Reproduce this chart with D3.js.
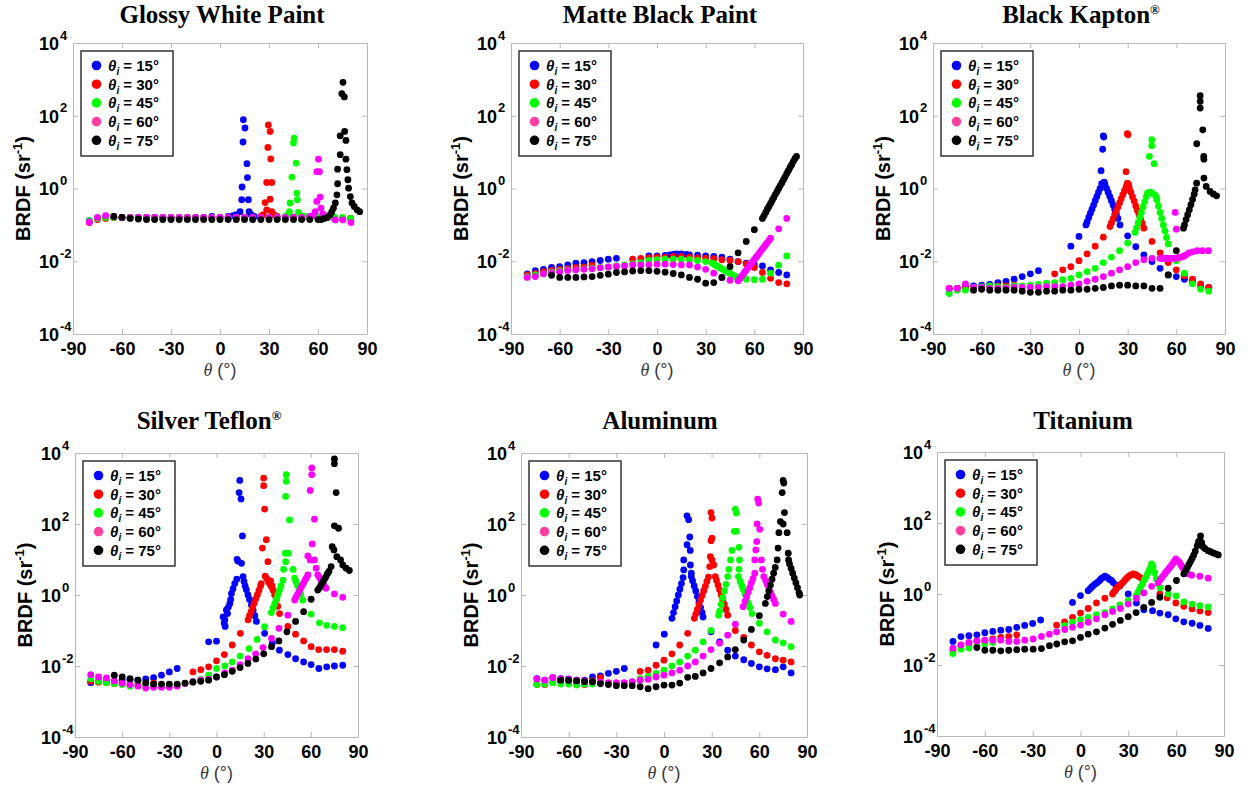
<!DOCTYPE html>
<html>
<head>
<meta charset="utf-8">
<script src="https://cdn.jsdelivr.net/npm/d3@7"></script>
<style>
  body { margin: 0; background: #fff; }
  svg { display: block; }
</style>
</head>
<body>
<svg id="chart" width="1250" height="788"></svg>
<script>
// ---- data: [scattering angle θ (deg), BRDF (sr^-1)] ----

// Glossy White Paint
const gw15 = [[-80,0.13],[-75,0.15],[-70,0.16],[-65,0.16],[-60,0.16],[-55,0.16],[-50,0.16],[-45,0.16],[-40,0.16],[-35,0.16],[-30,0.16],[-25,0.16],[-20,0.16],[-15,0.16],[-10,0.16],[-5,0.17],[0,0.16],[5,0.17],[8,0.18],[10,0.19],[12.3,0.23],[13.3,0.49],[13.5,1.1],[14.1,19],[14.3,78],[15.3,46],[16.5,4.8],[16.8,2.0],[17.4,0.49],[17.8,0.23],[19,0.19],[21,0.17],[25,0.16],[30,0.16],[35,0.16],[40,0.16],[45,0.16],[50,0.16],[55,0.16],[60,0.16],[65,0.16],[70,0.16],[75,0.15],[80,0.15]];
const gw30 = [[-80,0.116],[-75,0.14],[-70,0.15],[-65,0.16],[-60,0.16],[-55,0.16],[-50,0.16],[-45,0.16],[-40,0.16],[-35,0.16],[-30,0.16],[-25,0.16],[-20,0.16],[-15,0.16],[-10,0.16],[-5,0.16],[0,0.16],[5,0.16],[10,0.16],[15,0.16],[20,0.16],[25,0.17],[26.5,0.19],[27.6,0.41],[28.6,0.26],[28.6,1.46],[29.3,13.5],[29.6,56],[30.7,37],[31.1,6.5],[31.7,1.46],[30.7,0.51],[31.7,0.23],[33,0.19],[35,0.17],[40,0.16],[45,0.16],[50,0.16],[55,0.16],[60,0.16],[65,0.16],[70,0.15],[75,0.15],[80,0.15]];
const gw45 = [[-80,0.13],[-75,0.15],[-70,0.16],[-65,0.16],[-60,0.16],[-55,0.16],[-50,0.16],[-45,0.16],[-40,0.16],[-35,0.16],[-30,0.16],[-25,0.16],[-20,0.16],[-15,0.16],[-10,0.16],[-5,0.16],[0,0.16],[5,0.16],[10,0.16],[15,0.16],[20,0.16],[25,0.16],[30,0.16],[35,0.16],[40,0.17],[41.5,0.19],[42.5,0.23],[42.9,0.4],[44,2.06],[45,17.8],[45.4,24.4],[46.6,5.0],[47,0.75],[47.4,0.49],[48,0.22],[49.5,0.18],[52,0.17],[55,0.16],[60,0.16],[65,0.16],[70,0.16],[75,0.16],[80,0.15]];
const gw60 = [[-80,0.12],[-75,0.16],[-70,0.18],[-65,0.17],[-60,0.16],[-55,0.16],[-50,0.16],[-45,0.16],[-40,0.16],[-35,0.16],[-30,0.16],[-25,0.16],[-20,0.16],[-15,0.16],[-10,0.16],[-5,0.16],[0,0.16],[5,0.16],[10,0.16],[15,0.16],[20,0.16],[25,0.16],[30,0.16],[35,0.16],[40,0.16],[45,0.16],[50,0.16],[55,0.17],[57,0.18],[58.3,0.23],[59.3,0.44],[59.3,2.9],[60.3,6.4],[60.9,2.9],[61.3,0.58],[61.8,0.29],[63,0.2],[65,0.17],[70.6,0.137],[75.3,0.137],[80.2,0.116]];
const gw75 = [[-65,0.17],[-60,0.16],[-55,0.15],[-50,0.145],[-45,0.14],[-40,0.14],[-35,0.14],[-30,0.14],[-25,0.14],[-20,0.14],[-15,0.14],[-10,0.14],[-5,0.14],[0,0.14],[5,0.14],[10,0.14],[15,0.14],[20,0.14],[25,0.14],[30,0.14],[35,0.14],[40,0.14],[45,0.14],[50,0.14],[55,0.14],[60,0.14],[62,0.14],[63.8,0.15],[65.8,0.16],[67.5,0.19],[68.5,0.23],[69.5,0.29],[70.6,0.4],[71.6,0.67],[72,1.35],[72,3.4],[73.6,8.5],[73.6,28],[74.6,405],[75.3,830],[76.1,330],[76.3,37],[77.1,21],[77.1,6.4],[77.7,3.3],[78.3,1.74],[78.7,1.02],[79.8,0.6],[80.8,0.4],[82.2,0.32],[83.9,0.26],[85.5,0.23]];

// Matte Black Paint
const mb15 = [[-80,0.0045],[-75,0.0055],[-70,0.006],[-65,0.0068],[-60,0.0071],[-55,0.0079],[-50,0.0088],[-45,0.0092],[-40,0.0098],[-35,0.0105],[-30,0.0114],[-25,0.012],[-5,0.014],[0,0.014],[5,0.0145],[8,0.015],[10,0.0155],[12,0.0158],[15,0.0158],[18,0.0155],[20,0.015],[25,0.0146],[30,0.014],[35,0.0135],[40,0.013],[45,0.0114],[50,0.0098],[55,0.0088],[60,0.0079],[65,0.0074],[70,0.0058],[75,0.0049],[80,0.0042]];
const mb30 = [[-80,0.0042],[-75,0.0046],[-70,0.0052],[-65,0.0056],[-60,0.006],[-55,0.0063],[-50,0.0068],[-45,0.007],[-40,0.0078],[-15,0.0114],[-10,0.012],[-5,0.0125],[0,0.013],[5,0.013],[10,0.0135],[15,0.0135],[20,0.013],[25,0.0125],[30,0.0122],[35,0.0118],[40,0.011],[45,0.0105],[50,0.0098],[55,0.0085],[60,0.0067],[65,0.0049],[70,0.0034],[75,0.0026],[80,0.0024]];
const mb45 = [[-80,0.0038],[-75,0.0042],[-70,0.0045],[-65,0.005],[-60,0.0054],[-55,0.0058],[-50,0.0058],[-45,0.0062],[-40,0.0065],[-35,0.0068],[-30,0.007],[-25,0.0075],[-20,0.0079],[-15,0.0085],[-10,0.0092],[-5,0.0105],[0,0.011],[5,0.0114],[10,0.0114],[15,0.0114],[20,0.011],[25,0.0105],[30,0.0098],[34,0.0089],[35,0.0084],[36,0.0079],[37,0.0074],[38,0.007],[39,0.0066],[40,0.0062],[41,0.0058],[42,0.0055],[43,0.0052],[44,0.0049],[45,0.0046],[46,0.0043],[47,0.0041],[48,0.0039],[49,0.0037],[50,0.0035],[51,0.0034],[55,0.0032],[60,0.0031],[65,0.0032],[70,0.0047],[75,0.0078],[80,0.014]];
const mb60 = [[-80,0.0036],[-75,0.0038],[-70,0.0045],[-65,0.0048],[-60,0.0051],[-55,0.0056],[-50,0.0058],[-45,0.006],[-40,0.0062],[-35,0.0066],[-30,0.007],[-25,0.0072],[-20,0.0074],[-15,0.0079],[-10,0.0079],[-5,0.0081],[0,0.0083],[5,0.0083],[10,0.0081],[15,0.0079],[20,0.0079],[25,0.0069],[30,0.006],[35,0.0047],[40,0.0036],[45,0.003],[50,0.0029],[51,0.0033],[52,0.0038],[53,0.0043],[54,0.005],[55,0.0057],[56,0.0065],[57,0.0074],[58,0.0085],[59,0.0097],[60,0.011],[61,0.0127],[62,0.0145],[63,0.0166],[64,0.019],[65,0.0218],[66,0.025],[67,0.0285],[68,0.0326],[69,0.037],[70,0.043],[75,0.078],[80,0.15]];
const mb75 = [[-65,0.0041],[-60,0.0036],[-55,0.0036],[-50,0.0036],[-45,0.0037],[-40,0.0038],[-35,0.0041],[-30,0.0044],[-25,0.0049],[-20,0.0051],[-15,0.0054],[-10,0.0055],[-5,0.0055],[0,0.0053],[5,0.005],[10,0.0046],[15,0.0042],[20,0.0036],[25,0.0032],[30,0.0025],[35,0.0026],[40,0.0036],[45,0.0071],[50,0.017],[55,0.035],[60,0.074],[65,0.15],[66,0.18],[67,0.22],[68,0.27],[69,0.32],[70,0.39],[71,0.47],[72,0.57],[73,0.69],[74,0.83],[75,1.0],[76,1.2],[77,1.45],[78,1.75],[79,2.1],[80,2.6],[81,3.1],[82,3.8],[83,4.5],[84,5.5],[85,6.6],[86,7.6]];

// Black Kapton
const bk15 = [[-80,0.0017],[-75,0.0018],[-70,0.002],[-65,0.0021],[-60,0.0022],[-55,0.0023],[-50,0.0026],[-45,0.0028],[-40,0.0032],[-35,0.0038],[-30,0.0045],[-25,0.0055],[-5,0.026],[0,0.048],[4.3,0.1],[5,0.12],[6,0.16],[7,0.21],[8,0.27],[9,0.35],[10,0.46],[11,0.6],[12,0.78],[13,1.0],[13.6,3.1],[14,1.35],[14.6,12],[15,28],[15.3,26],[15.5,1.5],[16,1.3],[17,1.0],[18,0.78],[19,0.6],[20,0.46],[21,0.35],[22,0.27],[23,0.2],[24,0.15],[25.3,0.1],[30,0.05],[35,0.025],[40,0.015],[45,0.0098],[50,0.0064],[55,0.0042],[60,0.0038],[65,0.0032],[70,0.0028],[75,0.0021],[80,0.0019]];
const bk30 = [[-80,0.0018],[-75,0.0018],[-70,0.0019],[-65,0.0019],[-60,0.0019],[-55,0.002],[-50,0.0021],[-45,0.0021],[-40,0.0022],[-15,0.0045],[-10,0.0058],[-5,0.0071],[0,0.0104],[5,0.016],[10,0.026],[15,0.046],[19.1,0.09],[20,0.113],[21,0.145],[22,0.19],[23,0.24],[24,0.31],[25,0.4],[26,0.52],[27,0.67],[28,0.86],[29,1.1],[29.8,1.4],[29,2.9],[29.8,32],[30.2,30],[30.5,1.3],[31,1.05],[32,0.79],[33,0.59],[34,0.45],[35,0.33],[36,0.25],[37,0.19],[38,0.14],[39,0.11],[40,0.081],[45,0.035],[50,0.017],[55,0.0092],[60,0.0058],[65,0.004],[70,0.0032],[75,0.0024],[80,0.0019]];
const bk45 = [[-80,0.0013],[-75,0.0016],[-70,0.0016],[-65,0.0019],[-60,0.002],[-55,0.0021],[-50,0.002],[-45,0.0019],[-40,0.0021],[-35,0.0021],[-30,0.0022],[-25,0.0023],[-20,0.0025],[-15,0.0026],[-10,0.0031],[-5,0.0034],[0,0.0042],[5,0.0052],[10,0.0064],[15,0.0092],[20,0.013],[25,0.0195],[30,0.032],[34.6,0.062],[35.5,0.083],[36.5,0.115],[37.5,0.16],[38.5,0.22],[39.5,0.31],[40.5,0.43],[41.5,0.6],[42.2,0.75],[43,0.78],[43.4,7.6],[44.9,22],[44.9,15],[46.3,4.8],[44.2,0.8],[45.5,0.72],[46.5,0.68],[47.5,0.6],[48,0.49],[49,0.33],[50,0.22],[51,0.15],[52,0.1],[53,0.068],[54,0.045],[55,0.03],[60,0.0104],[65,0.0047],[70,0.0024],[75,0.0017],[80,0.0015]];
const bk60 = [[-80,0.0018],[-75,0.0018],[-70,0.0024],[-65,0.0019],[-60,0.0019],[-55,0.0018],[-50,0.0018],[-45,0.0018],[-40,0.0019],[-35,0.0019],[-30,0.0019],[-25,0.0019],[-20,0.002],[-15,0.002],[-10,0.002],[-5,0.0022],[0,0.0024],[5,0.0028],[10,0.0032],[15,0.0038],[20,0.0047],[25,0.0058],[30,0.0071],[35,0.0092],[40,0.011],[45,0.012],[50,0.012],[51,0.012],[52,0.0118],[53,0.012],[54,0.0122],[55,0.012],[56,0.0118],[57,0.012],[58,0.0122],[59,0.012],[59.3,0.22],[60,0.076],[60,0.012],[61,0.0125],[62,0.0128],[63,0.013],[64,0.0135],[65,0.014],[66,0.015],[67.8,0.017],[70,0.018],[72.8,0.0195],[76,0.0195],[79.8,0.0195]];
const bk75 = [[-65,0.0016],[-60,0.0017],[-55,0.0016],[-50,0.0016],[-45,0.0016],[-40,0.0016],[-35,0.0015],[-30,0.0014],[-25,0.0014],[-20,0.0015],[-15,0.0015],[-10,0.0016],[-5,0.0016],[0,0.0017],[5,0.0017],[10,0.0018],[15,0.0019],[20,0.0021],[25,0.0022],[30,0.0022],[35,0.0021],[40,0.0021],[45,0.0018],[50,0.0018],[55,0.0042],[60,0.0195],[64.4,0.081],[65,0.1],[66,0.14],[67,0.19],[68,0.26],[69,0.36],[70,0.5],[71,0.7],[71.6,0.92],[72.5,1.4],[72.6,17],[74.7,355],[74.7,247],[74.7,163],[76.3,41],[76.9,7.6],[77,6.4],[77,1.93],[78.4,1.14],[80.8,0.83],[82.8,0.71],[84.8,0.63]];

// Silver Teflon
const st15 = [[-80,0.0034],[-75,0.0038],[-70,0.0037],[-65,0.0037],[-60,0.004],[-55,0.0042],[-50,0.004],[-45,0.0043],[-40,0.0047],[-35,0.0055],[-30,0.0068],[-25,0.0085],[-5,0.048],[0,0.05],[4.2,0.24],[4.9,0.16],[5.3,0.2],[5.5,0.13],[6.3,0.38],[7,0.3],[7.5,0.45],[8.5,0.58],[9,0.75],[9.5,1.1],[10.5,1.5],[11.6,2.1],[12.9,2.8],[13.1,10],[13.6,9],[14.4,770],[14.8,1690],[15.6,510],[16.5,46],[15.9,7.8],[16.9,3.3],[17.5,2.4],[18.2,1.8],[19,1.4],[20,1.0],[21,0.75],[22.2,0.52],[23.3,0.37],[24.4,0.26],[25.4,0.18],[30.6,0.083],[35.5,0.044],[40,0.028],[45.4,0.021],[50.3,0.016],[55.4,0.013],[60.2,0.011],[65.1,0.0085],[70.1,0.0095],[75,0.01],[80.3,0.0105]];
const st30 = [[-80,0.0037],[-75,0.0035],[-70,0.0034],[-65,0.0032],[-60,0.0032],[-55,0.0029],[-50,0.003],[-45,0.003],[-40,0.0033],[-15,0.0068],[-10,0.0079],[-5,0.0095],[0,0.014],[5,0.021],[10,0.039],[15.2,0.083],[20.1,0.2],[21,0.26],[22,0.34],[23,0.45],[24,0.59],[25,0.78],[26,1.02],[27,1.35],[28,1.8],[28.5,2.1],[29.2,21],[30,1960],[30,1200],[30.6,263],[31.7,36],[32.7,8.7],[31,3.4],[32,2.9],[33,2.4],[34,2.0],[34.4,2.5],[35,1.7],[35.4,1.8],[36,1.35],[37,1.0],[38,0.72],[39,0.48],[40.1,0.3],[45.4,0.13],[50.3,0.079],[55.4,0.051],[60.2,0.035],[65,0.029],[70,0.029],[75,0.029],[80.3,0.026]];
const st45 = [[-80,0.0044],[-75,0.0037],[-70,0.0034],[-65,0.0032],[-60,0.003],[-55,0.0027],[-50,0.0028],[-45,0.0028],[-40,0.0029],[-35,0.0029],[-30,0.0029],[-25,0.0029],[-20,0.0032],[-15,0.0037],[-10,0.0042],[-5,0.0055],[0,0.0085],[5.3,0.01],[10,0.013],[15,0.019],[20.7,0.031],[25.8,0.056],[30.6,0.128],[34.9,0.32],[36,0.43],[37,0.57],[38,0.76],[39,1.0],[40,1.35],[41,1.8],[42.3,2.6],[42.7,5.3],[43.8,15],[44,8.7],[44,600],[44.4,2450],[44.4,1590],[46.5,130],[45.8,15],[48.7,5.3],[49.7,3.0],[50.5,2.4],[51.5,1.85],[52.5,1.4],[53.5,1.05],[54.9,0.72],[60.2,0.29],[65.5,0.165],[70.1,0.14],[75,0.13],[80.3,0.12]];
const st60 = [[-80,0.0057],[-75,0.0049],[-70,0.0046],[-65,0.0038],[-60,0.0033],[-55,0.003],[-50,0.0027],[-45,0.0024],[-40,0.0025],[-35,0.0025],[-30,0.0025],[-25,0.0027],[-20,0.0032],[-15,0.0036],[-10,0.004],[-5,0.0042],[0,0.0049],[5.3,0.0064],[10.1,0.0076],[15,0.011],[20,0.016],[24.9,0.022],[29.6,0.033],[35,0.06],[39.7,0.115],[45.4,0.27],[49.7,0.72],[50.5,0.85],[51.5,1.03],[52.5,1.25],[53.5,1.52],[54.5,1.85],[55.5,2.2],[56.5,2.7],[57.3,3.1],[58.1,3.7],[58.1,12.6],[59.6,9.7],[59.6,880],[60.6,3800],[60.6,2450],[62.3,137],[60.9,27.5],[62.3,9.7],[63.4,5.7],[64.4,3.7],[65.5,3.1],[66.5,2.5],[67.5,2.1],[68.5,1.8],[69.7,1.55],[75,1.07],[80.3,0.86]];
const st75 = [[-65,0.0055],[-60,0.0049],[-55,0.0044],[-50,0.004],[-45,0.0034],[-40,0.0031],[-35,0.0031],[-30,0.0031],[-25,0.0031],[-20,0.0033],[-15,0.0035],[-10,0.0037],[-5,0.004],[0,0.0049],[5,0.0057],[10,0.0071],[15,0.009],[20,0.0118],[25,0.0157],[30,0.022],[35,0.035],[39.7,0.051],[44.8,0.092],[50.3,0.18],[55.4,0.34],[60.2,0.76],[64.4,1.38],[65.5,1.6],[66.5,1.9],[67.5,2.3],[68.5,2.7],[69.5,3.2],[70.5,3.9],[71.5,4.6],[72.9,6.3],[73.6,23],[74.7,18.6],[75,5000],[75,6800],[76.1,770],[75,89],[77.6,76],[76.5,12],[78.9,9.7],[80.3,7],[82.4,5.7],[84.5,4.9]];

// Aluminum
const al15 = [[-80,0.0044],[-75,0.004],[-70,0.0047],[-65,0.0044],[-60,0.0043],[-55,0.004],[-50,0.004],[-45,0.0049],[-40,0.0053],[-35,0.0062],[-30,0.0071],[-25,0.0085],[-5,0.039],[0.2,0.079],[5,0.22],[6,0.32],[7,0.47],[8,0.68],[9,1.0],[10,1.45],[11,2.1],[12,3.1],[12.4,5.1],[12.4,9.7],[14.5,26],[14.5,170],[15.5,132],[16.2,43],[16.5,18],[16.6,7],[17.2,4.1],[17.2,3.3],[18,2.5],[19,1.8],[20,1.3],[21,0.9],[22,0.64],[23,0.45],[24,0.32],[24.6,0.24],[29.6,0.092],[35,0.048],[40.1,0.028],[44.9,0.019],[50.2,0.015],[55,0.0118],[60,0.0095],[64.9,0.0083],[70.1,0.0079],[75,0.0095],[80,0.0064]];
const al30 = [[-80,0.003],[-75,0.003],[-70,0.0035],[-65,0.0037],[-60,0.004],[-55,0.0035],[-50,0.003],[-45,0.0038],[-40,0.0047],[-15,0.0071],[-10,0.0076],[-5,0.0105],[0,0.0146],[5,0.022],[9.9,0.039],[14.9,0.083],[19.1,0.22],[20,0.29],[21,0.39],[22,0.53],[23,0.72],[24,0.97],[25,1.3],[26,1.75],[27,2.4],[28,3.2],[28.8,6.3],[29.2,12],[29.6,34],[29.6,210],[30.2,147],[30.2,40],[30.2,9.7],[31.3,7],[32.3,3.3],[33,2.6],[34,1.9],[35,1.4],[36,1.0],[37,0.74],[38,0.54],[39,0.39],[40.1,0.27],[44.9,0.1],[50.2,0.064],[55,0.039],[60,0.025],[64.9,0.02],[70.1,0.016],[75,0.0146],[80,0.013]];
const al45 = [[-80,0.003],[-75,0.0031],[-70,0.0034],[-65,0.0031],[-60,0.0031],[-55,0.0029],[-50,0.0031],[-45,0.0031],[-40,0.0032],[-35,0.0032],[-30,0.0032],[-25,0.0033],[-20,0.0036],[-15,0.0044],[-10,0.0051],[-5,0.0062],[0,0.0076],[5,0.01],[9.9,0.013],[14.9,0.019],[19.7,0.028],[24.6,0.048],[29.6,0.1],[34.4,0.27],[35,0.35],[36,0.54],[37,0.84],[38,1.3],[39,2.0],[40.1,3.3],[40.8,5.3],[41.9,9.7],[42.8,18],[44.3,62],[44.9,263],[45.6,203],[45.6,62],[47.2,22],[47.5,9.7],[47.2,5.3],[46.8,3.3],[48,2.4],[49,1.8],[50,1.4],[51,1.05],[52,0.8],[53,0.6],[54,0.45],[55.4,0.3],[60,0.16],[64.9,0.092],[70.1,0.054],[75,0.045],[80,0.035]];
const al60 = [[-80,0.0043],[-75,0.004],[-70,0.0047],[-65,0.0043],[-60,0.0042],[-55,0.004],[-50,0.0038],[-45,0.0036],[-40,0.0035],[-35,0.0034],[-30,0.0034],[-25,0.0034],[-20,0.0036],[-15,0.004],[-10,0.0042],[-5,0.0049],[0,0.0055],[5,0.0064],[9.9,0.0076],[14.9,0.01],[19.7,0.013],[24.6,0.019],[29.6,0.029],[35,0.044],[40.1,0.074],[44.9,0.15],[49.8,0.47],[51,0.67],[52,0.9],[53,1.2],[54,1.6],[55,2.2],[56,2.9],[57.1,4.1],[57.1,9.7],[57.8,18.6],[58.4,32],[58.6,100],[59,500],[59.6,390],[60.3,71],[61.3,9.7],[62,5.3],[62.8,3.3],[64,2.5],[65,2.0],[66,1.6],[67,1.2],[68,0.95],[69,0.75],[70.1,0.58],[75,0.29],[80,0.18]];
const al75 = [[-65,0.004],[-60,0.0039],[-55,0.0038],[-50,0.0036],[-45,0.0036],[-40,0.0032],[-35,0.003],[-30,0.0028],[-25,0.0028],[-20,0.0028],[-15,0.0026],[-10,0.0023],[-5,0.0026],[0,0.0029],[5,0.0029],[9.9,0.0033],[14.9,0.0048],[19.7,0.0051],[24.6,0.0064],[29.6,0.0085],[35,0.0123],[40.1,0.018],[44.9,0.029],[50.2,0.054],[55,0.107],[60,0.26],[63.8,0.58],[65,0.9],[66,1.3],[67,1.9],[68,2.8],[69,4.1],[70,6.0],[71.2,9.7],[71.8,21],[72.3,57],[73.3,117],[74.4,770],[75,1690],[75.4,1420],[75,100],[75.8,210],[77.5,57],[78.2,15],[78.4,9.7],[79,7.5],[80,5.6],[81,4.1],[82,3.0],[83,2.2],[84,1.6],[85,1.15],[85.4,1.0]];

// Titanium
const ti15 = [[-80,0.046],[-75,0.063],[-70,0.067],[-65,0.071],[-60,0.081],[-55,0.088],[-50,0.096],[-45,0.1],[-40,0.115],[-35,0.13],[-30,0.148],[-25,0.185],[-5,0.58],[0,0.9],[4.8,1.24],[6,1.4],[7,1.55],[7.9,1.7],[9,1.9],[10,2.0],[11,2.2],[12.1,2.4],[13,2.7],[14,2.9],[15.3,3.16],[16.7,2.95],[18,2.6],[19.4,2.4],[20.5,2.1],[22.2,1.8],[24.7,1.7],[29.9,1.0],[35.1,0.56],[39.7,0.36],[45.2,0.34],[49.8,0.29],[55,0.26],[59.8,0.2],[64.8,0.165],[70,0.15],[74.9,0.13],[80.1,0.107]];
const ti30 = [[-80,0.026],[-75,0.035],[-70,0.04],[-65,0.046],[-60,0.048],[-55,0.054],[-50,0.06],[-45,0.063],[-40,0.071],[-15,0.133],[-10,0.165],[-5,0.22],[0,0.29],[4.8,0.39],[10,0.56],[15.3,0.76],[20.1,1.0],[21,1.15],[22,1.3],[23,1.5],[24,1.65],[25,1.8],[26,2.0],[27,2.2],[28,2.5],[29,2.8],[30,3.1],[31,3.3],[32,3.5],[33,3.7],[34,3.6],[35.1,3.4],[36.5,3.1],[38.3,2.8],[49.8,1.0],[54.4,0.78],[59.8,0.56],[64.8,0.45],[70,0.38],[74.9,0.33],[80.1,0.3]];
const ti45 = [[-80,0.021],[-75,0.028],[-70,0.03],[-65,0.035],[-60,0.04],[-55,0.043],[-15,0.086],[-10,0.128],[-5,0.16],[0,0.19],[4.8,0.22],[10,0.26],[15.3,0.3],[20.1,0.38],[24.7,0.49],[29.9,0.65],[34.9,0.9],[36,1.1],[37,1.35],[38,1.65],[39,2.0],[40,2.5],[41,3.0],[42,3.7],[43,4.6],[44,5.6],[44.6,7.0],[45.5,6.0],[46.5,4.0],[47.5,2.7],[48.7,1.9],[50,1.5],[55,1.0],[60,0.88],[64.8,0.6],[70,0.52],[74.9,0.47],[80.1,0.43]];
const ti60 = [[-80,0.03],[-75,0.037],[-70,0.043],[-65,0.048],[-60,0.05],[-55,0.05],[-50,0.05],[-45,0.046],[-40,0.046],[-35,0.05],[-29.7,0.054],[-24.5,0.064],[-19.5,0.074],[-14.9,0.086],[-9.9,0.1],[-5,0.115],[0,0.133],[4.8,0.16],[10,0.2],[15.3,0.26],[20.1,0.32],[25,0.39],[29.9,0.52],[35.1,0.76],[39.7,1.07],[44.6,1.65],[48.7,2.1],[50,2.5],[51,2.9],[52,3.3],[53,3.8],[54,4.3],[55,4.9],[56,5.6],[57,6.4],[58,7.3],[59,8.5],[59.8,9.7],[61,8.6],[62,7.8],[63,6.6],[64,5.6],[65,4.8],[66,4.2],[67.5,3.7],[69.7,3.4],[74.9,3.16],[80.1,2.8]];
const ti75 = [[-65,0.031],[-60,0.026],[-55,0.026],[-50,0.025],[-45,0.026],[-40,0.027],[-35,0.028],[-29.7,0.028],[-24.5,0.029],[-19.5,0.035],[-14.9,0.039],[-9.9,0.045],[-5,0.048],[0,0.06],[4.8,0.074],[10,0.086],[15.3,0.11],[20.1,0.14],[25,0.18],[29.9,0.23],[34.9,0.3],[39.7,0.42],[44.6,0.58],[49.8,0.81],[55,1.45],[60.2,2.4],[64.8,3.7],[66,4.6],[67,5.6],[68,6.8],[69,8.2],[70,10],[71,12.5],[72,16],[73.2,23],[74,30],[75,32],[75.3,43],[76,28],[77,21],[78,19],[80,16.6],[81.5,15.5],[83.2,14.4],[84.8,13.5],[86.4,12.6]];

const materials = ["Glossy White Paint", "Matte Black Paint", "Black Kapton", "Silver Teflon", "Aluminum", "Titanium"];
const registered = [false, false, true, true, false, false];
const materialSeries = [
  [gw15, gw30, gw45, gw60, gw75],
  [mb15, mb30, mb45, mb60, mb75],
  [bk15, bk30, bk45, bk60, bk75],
  [st15, st30, st45, st60, st75],
  [al15, al30, al45, al60, al75],
  [ti15, ti30, ti45, ti60, ti75]
];
const incidence = [15, 30, 45, 60, 75];
const xTicks = [-90, -60, -30, 0, 30, 60, 90];
const yExponents = [-4, -2, 0, 2, 4];

// ---- style / layout ----
const dotColors = ["#0000ff", "#ff0000", "#00ff00", "#ff00ff", "#000000"];
const legendColors = ["#0000ff", "#ff0000", "#00ff00", "#ff40a0", "#000000"];
const SANS = "'Liberation Sans', Arial, sans-serif";
const SERIF = "'Liberation Serif', 'Times New Roman', serif";
const FRAME = "#b8b8b8";

const boxes = [
  { x: 73,  y: 43,  w: 294, h: 291, tx: 222,  ty: 23 },
  { x: 511, y: 43,  w: 292, h: 291, tx: 660,  ty: 23 },
  { x: 933, y: 43,  w: 292, h: 291, tx: 1081, ty: 23 },
  { x: 75,  y: 453, w: 283, h: 284, tx: 209,  ty: 429 },
  { x: 521, y: 453, w: 286, h: 284, tx: 660,  ty: 429 },
  { x: 937, y: 452, w: 287, h: 284, tx: 1083, ty: 429 }
];

const svg = d3.select("#chart");

materials.forEach((name, i) => drawPanel(name, registered[i], materialSeries[i], boxes[i]));

function drawPanel(name, reg, series, box) {
  // title
  const title = svg.append("text")
    .attr("x", box.tx).attr("y", box.ty)
    .attr("text-anchor", "middle")
    .style("font-family", SERIF).style("font-weight", "bold").style("font-size", "25px");
  title.append("tspan").text(name);
  if (reg) title.append("tspan").attr("dy", -9).style("font-size", "13px").text("\u00ae");

  const g = svg.append("g").attr("transform", `translate(${box.x},${box.y})`);
  const x = d3.scaleLinear().domain([-90, 90]).range([0, box.w]);
  const y = d3.scaleLog().domain([1e-4, 1e4]).range([box.h, 0]);
  const yVals = yExponents.map(e => Math.pow(10, e));

  // frame + inward ticks
  g.append("g").attr("transform", `translate(0,${box.h})`)
    .call(d3.axisBottom(x).tickValues(xTicks).tickSize(-5).tickSizeOuter(0).tickPadding(8).tickFormat(d => String(d)))
    .call(ax => ax.selectAll("text").attr("fill", "#000")
      .style("font-family", SANS).style("font-weight", "bold").style("font-size", "18px"));
  g.append("g")
    .call(d3.axisTop(x).tickValues(xTicks).tickSize(-5).tickSizeOuter(0).tickFormat(""));
  g.append("g")
    .call(d3.axisLeft(y).tickValues(yVals).tickSize(-5).tickSizeOuter(0).tickFormat(""))
    .call(ax => {
      ax.selectAll(".tick").append("text")
        .attr("x", -14).attr("dy", "0.36em").attr("text-anchor", "end").attr("fill", "#000")
        .style("font-family", SANS).style("font-weight", "bold").style("font-size", "18px")
        .text("10");
      ax.selectAll(".tick").append("text")
        .attr("x", -13).attr("y", -4).attr("text-anchor", "start").attr("fill", "#000")
        .style("font-family", SANS).style("font-weight", "bold").style("font-size", "13px")
        .text(d => String(Math.round(Math.log10(d))));
    });
  g.append("g").attr("transform", `translate(${box.w},0)`)
    .call(d3.axisRight(y).tickValues(yVals).tickSize(-5).tickSizeOuter(0).tickFormat(""));
  g.selectAll(".domain").attr("stroke", FRAME);
  g.selectAll(".tick line").attr("stroke", FRAME);

  // axis labels
  const xl = g.append("text")
    .attr("x", box.w / 2).attr("y", box.h + 42)
    .attr("text-anchor", "middle").attr("fill", "#3a3a3a")
    .style("font-family", SANS).style("font-size", "18px");
  xl.append("tspan").style("font-style", "italic").style("font-family", SERIF).text("\u03b8");
  xl.append("tspan").text(" (\u00b0)");

  const yl = g.append("text")
    .attr("transform", `translate(-43,${box.h / 2}) rotate(-90)`)
    .attr("text-anchor", "middle").attr("fill", "#000")
    .style("font-family", SANS).style("font-weight", "bold").style("font-size", "20px");
  yl.append("tspan").text("BRDF (sr");
  yl.append("tspan").attr("dy", -8).style("font-size", "13px").text("-1");
  yl.append("tspan").attr("dy", 8).text(")");

  // data points, 15° first so 75° ends on top
  series.forEach((pts, k) => {
    g.append("g").selectAll("circle")
      .data(pts)
      .join("circle")
        .attr("cx", d => x(d[0]))
        .attr("cy", d => y(d[1]))
        .attr("r", 3.4)
        .attr("fill", dotColors[k]);
  });

  // legend
  const lg = g.append("g").attr("transform", "translate(8,8)");
  lg.append("rect").attr("width", 92).attr("height", 105)
    .attr("fill", "#fff").attr("stroke", "#333").attr("stroke-width", 1.5);
  incidence.forEach((a, k) => {
    const row = lg.append("g").attr("transform", `translate(0,${14.5 + k * 18.7})`);
    row.append("circle").attr("cx", 15.5).attr("cy", 0).attr("r", 4.8).attr("fill", legendColors[k]);
    const t = row.append("text").attr("x", 27).attr("y", 5.5).attr("fill", "#000")
      .style("font-family", SANS).style("font-weight", "bold").style("font-size", "15px");
    t.append("tspan").style("font-style", "italic").text("\u03b8");
    t.append("tspan").attr("dy", 4).style("font-style", "italic").style("font-size", "10px").text("i");
    t.append("tspan").attr("dy", -4).text(` = ${a}\u00b0`);
  });
}
</script>
</body>
</html>
